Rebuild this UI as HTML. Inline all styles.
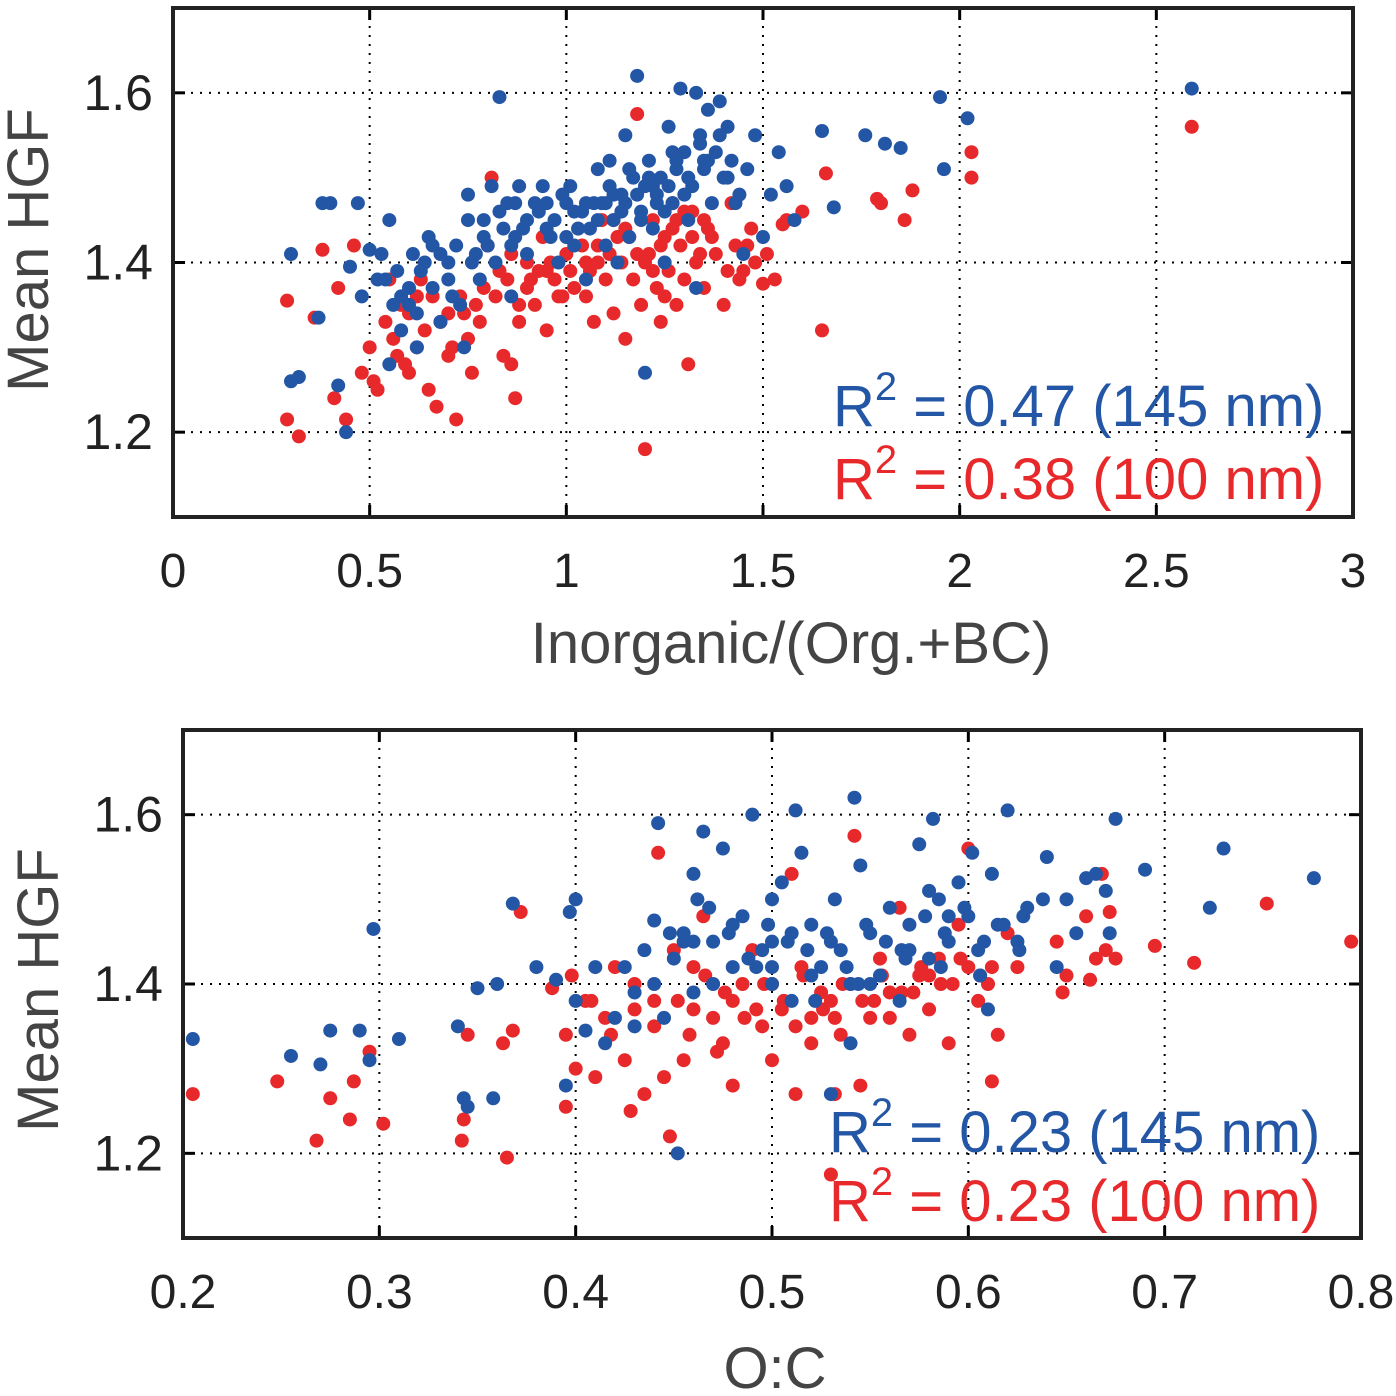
<!DOCTYPE html>
<html><head><meta charset="utf-8"><style>
html,body{margin:0;padding:0;background:#fff;}
svg{display:block;font-family:"Liberation Sans",Arial,sans-serif;}
</style></head><body>
<svg id="chart" width="1396" height="1396" viewBox="0 0 1396 1396" xmlns="http://www.w3.org/2000/svg"></svg>
<script>
const topXTicks=[0,0.5,1,1.5,2,2.5,3];
const topXTickLabels=["0","0.5","1","1.5","2","2.5","3"];
const yTicks=[1.2,1.4,1.6];
const yTickLabels=["1.2","1.4","1.6"];
const botXTicks=[0.2,0.3,0.4,0.5,0.6,0.7,0.8];
const botXTickLabels=["0.2","0.3","0.4","0.5","0.6","0.7","0.8"];

const topBlueX=[0.30,0.30,0.32,0.38,0.40,0.37,0.42,0.44,0.45,0.47,0.48,0.50,0.52,0.53,0.55,0.56,0.57,0.58,0.60,0.61,0.62,0.63,0.65,0.66,0.68,0.70,0.71,0.72,0.73,0.74,0.75,0.75,0.76,0.78,0.79,0.80,0.81,0.82,0.83,0.84,0.85,0.86,0.87,0.88,0.90,0.92,0.94,0.95,0.97,0.98,1.00,1.01,1.02,1.04,1.05,1.06,1.08,1.09,1.10,1.11,1.12,1.13,1.14,1.15,1.16,1.17,1.18,1.19,1.20,1.20,1.21,1.22,1.23,1.24,1.25,1.26,1.27,1.28,1.29,1.30,1.31,1.32,1.33,1.33,1.34,1.35,1.36,1.37,1.38,1.39,1.40,1.41,1.42,1.43,1.45,1.48,1.50,1.52,1.54,1.56,1.58,1.65,1.68,1.76,1.81,1.85,1.95,1.96,2.02,2.59,0.55,0.62,0.68,0.90,1.00,1.15,1.25,1.05,0.95,1.10,
0.54,0.58,0.64,0.70,0.77,0.83,0.86,0.89,0.93,0.96,0.99,1.03,1.07,1.11,1.14,1.18,1.21,1.23,1.26,1.28,1.30,1.34,1.36,1.39,1.41,1.44,1.46,1.22,1.19,1.16,1.31,1.35,1.12,0.87,0.79,0.66,0.60,1.02,1.08,1.27];
const topBlueY=[1.41,1.26,1.265,1.47,1.47,1.335,1.255,1.20,1.395,1.47,1.36,1.415,1.38,1.41,1.45,1.35,1.39,1.32,1.37,1.41,1.34,1.39,1.43,1.37,1.33,1.40,1.36,1.42,1.35,1.30,1.45,1.48,1.40,1.38,1.45,1.42,1.49,1.40,1.595,1.44,1.47,1.36,1.43,1.49,1.41,1.47,1.49,1.44,1.45,1.40,1.47,1.49,1.42,1.46,1.38,1.44,1.51,1.47,1.42,1.52,1.45,1.40,1.48,1.55,1.43,1.50,1.62,1.46,1.49,1.27,1.52,1.44,1.48,1.50,1.40,1.56,1.47,1.52,1.605,1.53,1.45,1.49,1.60,1.37,1.55,1.51,1.58,1.47,1.53,1.59,1.50,1.56,1.52,1.47,1.41,1.55,1.43,1.48,1.53,1.49,1.45,1.555,1.465,1.55,1.54,1.535,1.595,1.51,1.57,1.605,1.28,1.30,1.41,1.45,1.43,1.47,1.46,1.47,1.47,1.47,
1.38,1.36,1.40,1.38,1.41,1.46,1.42,1.44,1.46,1.43,1.48,1.44,1.47,1.49,1.46,1.48,1.50,1.47,1.49,1.51,1.48,1.54,1.52,1.55,1.50,1.48,1.51,1.49,1.45,1.51,1.50,1.52,1.48,1.47,1.43,1.42,1.35,1.46,1.45,1.53];
const topRedX=[0.29,0.29,0.32,0.36,0.38,0.41,0.42,0.44,0.46,0.48,0.50,0.51,0.52,0.55,0.57,0.58,0.60,0.62,0.63,0.65,0.67,0.68,0.70,0.72,0.73,0.75,0.76,0.78,0.80,0.81,0.82,0.84,0.85,0.86,0.87,0.88,0.90,0.92,0.94,0.95,0.97,0.99,1.00,1.01,1.03,1.05,1.07,1.08,1.09,1.10,1.12,1.14,1.15,1.16,1.18,1.19,1.20,1.21,1.22,1.23,1.24,1.25,1.26,1.27,1.28,1.29,1.30,1.31,1.32,1.33,1.35,1.36,1.38,1.40,1.42,1.44,1.46,1.48,1.50,1.53,1.55,1.60,1.65,1.66,1.79,1.80,1.86,1.88,2.03,2.03,2.59,0.60,0.70,0.90,1.05,1.15,1.25,1.35,0.95,1.12,
0.54,0.56,0.59,0.64,0.66,0.71,0.74,0.79,0.83,0.88,0.91,0.96,1.02,1.04,1.06,1.11,1.13,1.17,1.20,1.24,1.27,1.30,1.34,1.37,1.41,1.43,1.47,1.51,1.56,0.86,0.93,0.98,1.08,1.18,1.22,1.28,1.32,0.77,0.62,1.45];
const topRedY=[1.355,1.215,1.195,1.335,1.415,1.24,1.37,1.215,1.42,1.27,1.30,1.26,1.25,1.38,1.29,1.35,1.27,1.30,1.38,1.25,1.23,1.33,1.29,1.215,1.36,1.31,1.27,1.33,1.42,1.50,1.36,1.29,1.38,1.28,1.24,1.33,1.40,1.35,1.43,1.32,1.38,1.36,1.41,1.39,1.44,1.36,1.33,1.42,1.45,1.38,1.34,1.40,1.31,1.43,1.575,1.35,1.18,1.41,1.45,1.37,1.33,1.43,1.39,1.47,1.35,1.42,1.38,1.28,1.46,1.40,1.37,1.44,1.41,1.35,1.47,1.38,1.42,1.40,1.375,1.38,1.445,1.46,1.32,1.505,1.475,1.47,1.45,1.485,1.53,1.50,1.56,1.34,1.34,1.37,1.40,1.44,1.36,1.45,1.39,1.45,
1.33,1.31,1.28,1.32,1.36,1.30,1.34,1.37,1.39,1.35,1.38,1.40,1.37,1.42,1.39,1.41,1.43,1.38,1.40,1.42,1.44,1.46,1.41,1.43,1.39,1.42,1.44,1.41,1.45,1.41,1.39,1.36,1.40,1.41,1.39,1.45,1.43,1.35,1.36,1.39];

const botBlueX=[0.205,0.255,0.27,0.275,0.29,0.295,0.297,0.31,0.34,0.343,0.345,0.35,0.358,0.36,0.368,0.38,0.39,0.395,0.397,0.40,0.40,0.405,0.41,0.415,0.42,0.425,0.43,0.435,0.44,0.442,0.445,0.45,0.452,0.455,0.46,0.465,0.47,0.475,0.48,0.485,0.49,0.495,0.50,0.50,0.505,0.51,0.512,0.515,0.52,0.525,0.53,0.532,0.535,0.54,0.542,0.545,0.55,0.555,0.56,0.565,0.57,0.575,0.58,0.582,0.585,0.59,0.595,0.60,0.602,0.605,0.61,0.612,0.615,0.62,0.625,0.63,0.64,0.645,0.65,0.655,0.66,0.665,0.67,0.672,0.675,0.69,0.723,0.73,0.776,0.46,0.48,0.50,0.52,0.53,0.55,0.57,0.59,0.51,0.47,0.43,
0.44,0.455,0.468,0.478,0.488,0.498,0.508,0.518,0.528,0.538,0.548,0.558,0.568,0.578,0.588,0.598,0.608,0.618,0.628,0.638,0.448,0.462,0.492,0.522,0.544,0.566,0.586,0.606,0.626,0.46,0.50,0.54,0.58];
const botBlueY=[1.335,1.315,1.305,1.345,1.345,1.31,1.465,1.335,1.35,1.265,1.255,1.395,1.265,1.40,1.495,1.42,1.405,1.28,1.485,1.50,1.38,1.345,1.42,1.33,1.36,1.42,1.39,1.44,1.475,1.59,1.36,1.43,1.20,1.46,1.53,1.58,1.45,1.56,1.42,1.48,1.60,1.44,1.50,1.40,1.52,1.46,1.605,1.555,1.47,1.42,1.27,1.50,1.44,1.33,1.62,1.54,1.46,1.41,1.49,1.38,1.47,1.565,1.43,1.595,1.50,1.45,1.52,1.48,1.555,1.44,1.37,1.53,1.47,1.605,1.45,1.49,1.55,1.42,1.50,1.46,1.525,1.53,1.51,1.46,1.595,1.535,1.49,1.56,1.525,1.45,1.47,1.45,1.41,1.45,1.40,1.44,1.48,1.38,1.40,1.35,
1.40,1.45,1.49,1.46,1.43,1.47,1.45,1.44,1.46,1.42,1.47,1.45,1.43,1.48,1.46,1.49,1.45,1.47,1.48,1.50,1.46,1.50,1.42,1.38,1.40,1.44,1.42,1.41,1.44,1.39,1.42,1.40,1.51];
const botRedX=[0.205,0.248,0.268,0.275,0.285,0.287,0.295,0.302,0.342,0.343,0.345,0.363,0.365,0.368,0.372,0.388,0.395,0.395,0.398,0.40,0.405,0.41,0.415,0.42,0.425,0.428,0.43,0.435,0.44,0.442,0.445,0.448,0.45,0.455,0.46,0.465,0.47,0.475,0.48,0.485,0.49,0.495,0.50,0.505,0.51,0.512,0.515,0.52,0.525,0.53,0.532,0.535,0.54,0.542,0.545,0.55,0.555,0.56,0.565,0.57,0.575,0.58,0.585,0.59,0.595,0.60,0.605,0.61,0.612,0.615,0.62,0.625,0.645,0.648,0.65,0.66,0.662,0.665,0.668,0.67,0.672,0.675,0.695,0.715,0.752,0.795,0.50,0.53,0.56,0.48,0.46,0.58,0.52,0.44,0.60,
0.452,0.466,0.476,0.486,0.496,0.506,0.516,0.526,0.536,0.546,0.556,0.566,0.576,0.586,0.596,0.606,0.458,0.472,0.492,0.512,0.532,0.552,0.572,0.592,0.612,0.43,0.418,0.408];
const botRedY=[1.27,1.285,1.215,1.265,1.24,1.285,1.32,1.235,1.215,1.24,1.34,1.33,1.195,1.345,1.485,1.395,1.255,1.34,1.41,1.30,1.38,1.29,1.36,1.42,1.31,1.25,1.40,1.27,1.35,1.555,1.29,1.22,1.44,1.31,1.37,1.48,1.36,1.33,1.28,1.40,1.44,1.35,1.31,1.37,1.53,1.27,1.42,1.36,1.39,1.175,1.27,1.34,1.40,1.575,1.28,1.36,1.43,1.39,1.49,1.34,1.41,1.37,1.43,1.33,1.47,1.56,1.38,1.40,1.285,1.34,1.46,1.42,1.45,1.39,1.41,1.48,1.405,1.43,1.53,1.44,1.485,1.43,1.445,1.425,1.495,1.45,1.40,1.38,1.36,1.38,1.42,1.41,1.33,1.38,1.42,
1.38,1.41,1.39,1.36,1.40,1.38,1.41,1.37,1.40,1.38,1.41,1.39,1.42,1.40,1.43,1.41,1.34,1.32,1.37,1.35,1.36,1.38,1.39,1.40,1.42,1.37,1.34,1.38];

const NS="http://www.w3.org/2000/svg";
const svg=document.getElementById('chart');
function mk(tag,attrs,parent){const e=document.createElementNS(NS,tag);for(const k in attrs)e.setAttribute(k,attrs[k]);(parent||svg).appendChild(e);return e;}
const BLUE="#2456a6",RED="#e8292b";

function panel(opt){
  const g=mk('g',{});
  
  
  const xs=v=>opt.x0+(v-opt.xmin)/(opt.xmax-opt.xmin)*(opt.x1-opt.x0);
  const ys=v=>opt.y1-(v-1.1)/(0.6)*(opt.y1-opt.y0);
  opt.xticks.forEach((t,i)=>{
    const x=xs(t);
    if(i>0&&i<opt.xticks.length-1){
      const l=mk('line',{x1:x,x2:x,y1:opt.y0,y2:opt.y1,stroke:'#000','stroke-width':2,'stroke-dasharray':'2,7'},g);
      
      
    }
    mk('line',{x1:x,x2:x,y1:opt.y1,y2:opt.y1-12,stroke:'#000','stroke-width':3},g);
    mk('line',{x1:x,x2:x,y1:opt.y0,y2:opt.y0+12,stroke:'#000','stroke-width':3},g);
    const tx=mk('text',{x:x,y:opt.y1+70,'font-size':48,'text-anchor':'middle',fill:'#222'},g);
    tx.textContent=opt.xlabels[i];
    
    
  });
  yTicks.forEach((t,i)=>{
    const y=ys(t);
    const l=mk('line',{x1:opt.x0,x2:opt.x1,y1:y,y2:y,stroke:'#000','stroke-width':2,'stroke-dasharray':'2,7'},g);
    
    
    mk('line',{x1:opt.x0,x2:opt.x0+12,y1:y,y2:y,stroke:'#000','stroke-width':3},g);
    mk('line',{x1:opt.x1,x2:opt.x1-12,y1:y,y2:y,stroke:'#000','stroke-width':3},g);
    const tx=mk('text',{x:opt.x0-20,y:y+17,'font-size':50,'text-anchor':'end',fill:'#222'},g);
    tx.textContent=yTickLabels[i];
    
    
  });
  function series(X,Y,color,nm){
    const sg=mk('g',{},g);
    
    
    for(let i=0;i<X.length;i++){
      const c=mk('circle',{cx:xs(X[i]),cy:ys(Y[i]),r:7,fill:color},sg);
      
      
    }
  }
  series(opt.redX,opt.redY,RED,'series-100nm');
  series(opt.blueX,opt.blueY,BLUE,'series-145nm');
  const fr=mk('rect',{x:opt.x0,y:opt.y0,width:opt.x1-opt.x0,height:opt.y1-opt.y0,fill:'none',stroke:'#222','stroke-width':4},g);
  
  
  const yl=mk('text',{transform:`translate(${opt.ylx},${opt.ylc}) rotate(-90)`,'font-size':58,'text-anchor':'middle',fill:'#444'},g);
  yl.textContent='Mean HGF';
  
  
  const xl=mk('text',{x:opt.xtx,y:opt.xty,'font-size':58,'text-anchor':'middle',fill:'#444'},g);
  xl.textContent=opt.xtitle;
  
  
  [[opt.r2b,BLUE,opt.ab,'145 nm','r2-145nm'],[opt.r2r,RED,opt.ar,'100 nm','r2-100nm']].forEach(a=>{
    const t=mk('text',{x:opt.ax,y:a[2],'font-size':58,fill:a[1]},g);
    t.innerHTML='R<tspan dy="-26" font-size="40">2</tspan><tspan dy="26"> = '+a[0]+' ('+a[3]+')</tspan>';
    
    
  });
}
panel({name:'top-panel',x0:173,x1:1353,y0:8,y1:517,xmin:0,xmax:3,xticks:topXTicks,xlabels:topXTickLabels,
  blueX:topBlueX,blueY:topBlueY,redX:topRedX,redY:topRedY,ylx:48,ylc:250,xtitle:'Inorganic/(Org.+BC)',xtx:791,xty:663,
  ax:833,ab:426,ar:499,r2b:'0.47',r2r:'0.38'});
panel({name:'bottom-panel',x0:183,x1:1361,y0:730,y1:1238,xmin:0.2,xmax:0.8,xticks:botXTicks,xlabels:botXTickLabels,
  blueX:botBlueX,blueY:botBlueY,redX:botRedX,redY:botRedY,ylx:58,ylc:990,xtitle:'O:C',xtx:775,xty:1388,
  ax:829,ab:1152,ar:1221,r2b:'0.23',r2r:'0.23'});
</script>
</body></html>
